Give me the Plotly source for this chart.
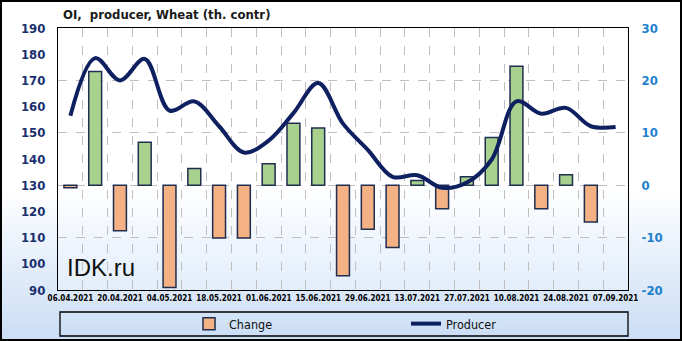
import base64
import plotly.graph_objects as go

# ---- data ----
dates = ["06.04.2021", "13.04.2021", "20.04.2021", "27.04.2021", "04.05.2021", "11.05.2021",
         "18.05.2021", "25.05.2021", "01.06.2021", "08.06.2021", "15.06.2021", "22.06.2021",
         "29.06.2021", "06.07.2021", "13.07.2021", "20.07.2021", "27.07.2021", "03.08.2021",
         "10.08.2021", "17.08.2021", "24.08.2021", "31.08.2021", "07.09.2021"]
change = [-0.5, 21.7, -8.7, 8.2, -19.5, 3.2, -10.1, -10.1, 4.1, 11.8, 10.9, -17.3,
          -8.4, -11.9, 0.9, -4.5, 1.6, 9.1, 22.7, -4.5, 2.0, -7.0, None]
producer = [156.5, 178.5, 170.0, 178.2, 158.5, 162.0, 152.5, 142.5, 147.0, 157.5, 169.0, 153.5,
            143.5, 133.2, 133.8, 129.0, 131.0, 139.8, 162.0, 157.3, 159.5, 152.5, 152.2]
tick_text = [d if i % 2 == 0 else "" for i, d in enumerate(dates)]
right_ticks = [-20, -10, 0, 10, 20, 30]
right_text = [str(v) for v in right_ticks]

W, H = 682, 341
ML, MR, MT, MB = 58, 54, 28, 51
PW, PH = W - ML - MR, H - MT - MB


def px_x(p):
    return (p - ML) / PW


def px_y(p):
    return (H - MB - p) / PH


def grad_svg(stops):
    s = "".join(f'<stop offset="{o}" stop-color="{c}"/>' for o, c in stops)
    svg = ('<svg xmlns="http://www.w3.org/2000/svg" width="100" height="100" preserveAspectRatio="none">'
           f'<defs><linearGradient id="g" x1="0" y1="0" x2="0" y2="1">{s}</linearGradient></defs>'
           '<rect width="100" height="100" fill="url(#g)"/></svg>')
    return "data:image/svg+xml;base64," + base64.b64encode(svg.encode()).decode()


bar_colors = ["#A9D18E" if (v is not None and v >= 0) else "#F4B183" for v in change]

fig = go.Figure()
fig.add_trace(go.Bar(
    x=dates, y=change, name="Change", yaxis="y", width=0.52,
    marker=dict(color=bar_colors, line=dict(color="#1F2D50", width=1.5)),
))
fig.add_trace(go.Scatter(
    x=dates, y=producer, name="Producer", yaxis="y2", mode="lines",
    line=dict(color="#0E2060", width=4, shape="spline", smoothing=1.0),
))

fig.update_layout(
    width=W, height=H,
    margin=dict(l=ML, r=MR, t=MT, b=MB, autoexpand=False),
    paper_bgcolor="white",
    plot_bgcolor="rgba(0,0,0,0)",
    showlegend=True,
    font=dict(family="DejaVu Sans Condensed", color="#000"),
    title=dict(text="<b>OI,  producer, Wheat (th. contr)</b>", x=px_x(63), xref="paper", xanchor="left",
               y=1 - 14 / H, yref="container", yanchor="middle",
               font=dict(size=13, color="#1a1a1a", family="DejaVu Sans Condensed")),
    xaxis=dict(type="category", tickvals=dates, ticktext=tick_text, tickson="boundaries",
               showgrid=True, gridcolor="#BFBFBF", griddash="dash", gridwidth=1,
               showline=True, linecolor="black", linewidth=1, mirror=True,
               ticks="", tickangle=0, automargin=False,
               tickfont=dict(size=8, color="black", family="DejaVu Sans Condensed", weight="bold"),
               range=[-0.5, len(dates) - 0.5]),
    yaxis=dict(side="right", range=[-20, 30], tickvals=right_ticks, ticktext=right_text,
               showgrid=True, gridcolor="#BFBFBF", griddash="dash", gridwidth=1, zeroline=False,
               showline=True, linecolor="black", linewidth=1, mirror=True, automargin=False,
               ticks="outside", ticklen=10, tickcolor="rgba(0,0,0,0)",
               tickfont=dict(size=13, color="#1F7FCF", family="DejaVu Sans Condensed", weight="bold")),
    yaxis2=dict(side="left", overlaying="y", range=[90, 190], dtick=10, showgrid=False, zeroline=False,
                ticks="outside", ticklen=9, tickcolor="rgba(0,0,0,0)", automargin=False,
                tickfont=dict(size=13, color="#1A2F6E", family="DejaVu Sans Condensed", weight="bold")),
    legend=dict(orientation="h", x=px_x(189), xanchor="left", y=px_y(324), yanchor="middle",
                bgcolor="rgba(0,0,0,0)", entrywidth=172, entrywidthmode="pixels",
                font=dict(size=12.5, color="#111", family="DejaVu Sans Condensed")),
    images=[
        dict(source=grad_svg([(0, "#FFFFFF"), (0.55, "#FFFFFF"), (1, "#CADDF5")]),
             xref="paper", yref="paper", x=-ML / PW, y=1 + MT / PH, sizex=W / PW, sizey=H / PH,
             xanchor="left", yanchor="top", sizing="stretch", layer="below"),
        dict(source=grad_svg([(0, "#FFFFFF"), (0.6, "#FFFFFF"), (1, "#E2EDFA")]),
             xref="paper", yref="paper", x=0, y=1, sizex=1, sizey=1,
             xanchor="left", yanchor="top", sizing="stretch", layer="below"),
    ],
    shapes=[
        dict(type="rect", xref="paper", yref="paper", x0=px_x(60), x1=px_x(628), y0=px_y(312), y1=px_y(336),
             line=dict(color="black", width=1.3), fillcolor="rgba(0,0,0,0)"),
        dict(type="rect", xref="paper", yref="paper", x0=px_x(1), x1=px_x(W - 1), y0=px_y(H - 1), y1=px_y(1),
             line=dict(color="black", width=2), fillcolor="rgba(0,0,0,0)"),
    ],
    annotations=[
        dict(text="IDK.ru", xref="paper", yref="paper", x=px_x(65), y=px_y(267), xanchor="left",
             yanchor="middle", showarrow=False, font=dict(size=24, color="#111", family="Liberation Sans")),
    ],
)

fig.write_html("out.html")
